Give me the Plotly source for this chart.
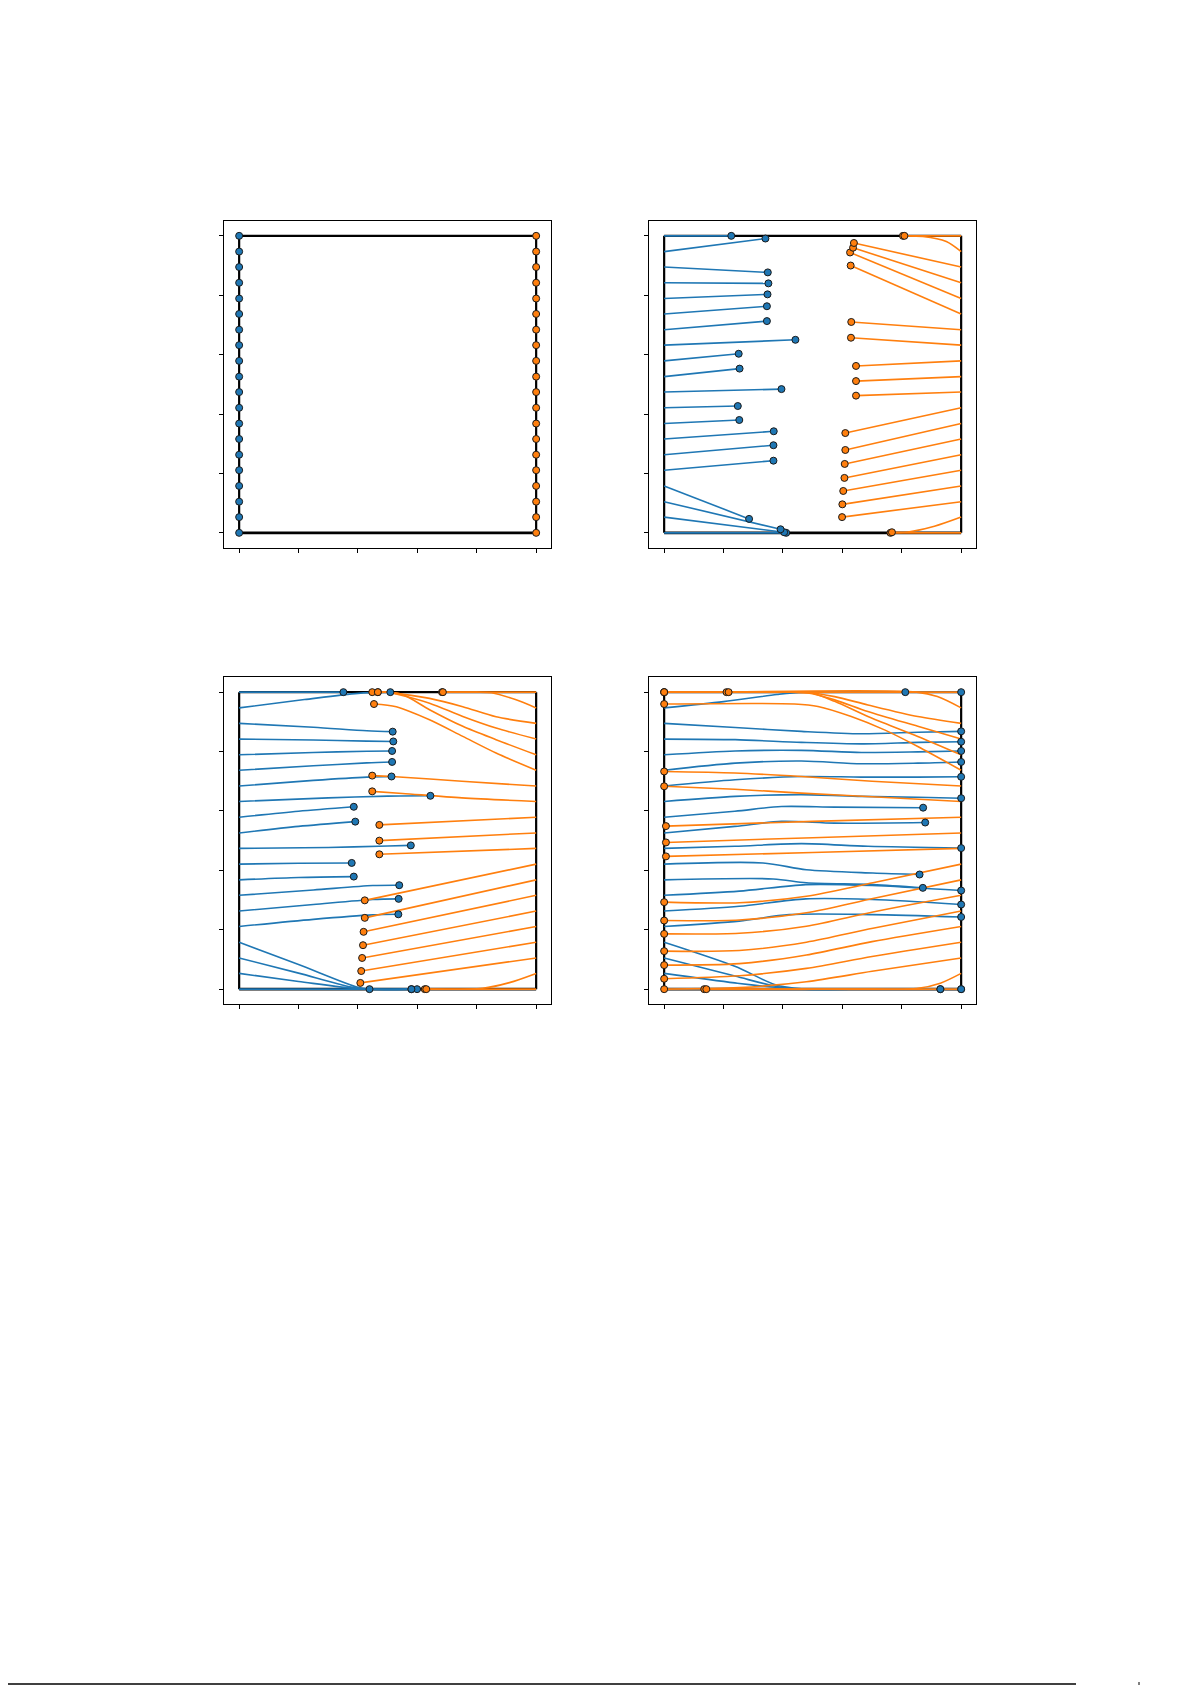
import plotly.graph_objects as go

start_y = [0.0, 0.053, 0.105, 0.158, 0.211, 0.263, 0.316, 0.368, 0.421, 0.474,
           0.526, 0.579, 0.632, 0.684, 0.737, 0.789, 0.842, 0.895, 0.947, 1.0]

# panel 1: particles at rest on the walls
p1_blue = [[(0.0, y)] for y in start_y]
p1_orange = [[(1.0, y)] for y in start_y]

# panel 2 trajectories (index = particle k, bottom to top)
p2_blue = [
    [(0, 0.0), (0.411, 0.0)],
    [(0, 0.053), (0.404, 0.002)],
    [(0, 0.105), (0.392, 0.012)],
    [(0, 0.158), (0.286, 0.047)],
    [(0, 0.211), (0.368, 0.243)],
    [(0, 0.263), (0.368, 0.295)],
    [(0, 0.316), (0.369, 0.342)],
    [(0, 0.368), (0.253, 0.380)],
    [(0, 0.421), (0.248, 0.427)],
    [(0, 0.474), (0.395, 0.484)],
    [(0, 0.526), (0.254, 0.553)],
    [(0, 0.579), (0.251, 0.603)],
    [(0, 0.632), (0.442, 0.650)],
    [(0, 0.684), (0.346, 0.713)],
    [(0, 0.737), (0.346, 0.763)],
    [(0, 0.789), (0.348, 0.803)],
    [(0, 0.842), (0.351, 0.840)],
    [(0, 0.895), (0.349, 0.877)],
    [(0, 0.947), (0.341, 0.991)],
    [(0, 1.0), (0.226, 1.0)],
]
p2_orange = [
    [(1, 0.0), (0.762, 0.0)],
    [(1, 0.053), (0.910, 0.022), (0.821, 0.003), (0.767, 0.002)],
    [(1, 0.105), (0.599, 0.053)],
    [(1, 0.158), (0.600, 0.096)],
    [(1, 0.211), (0.603, 0.141)],
    [(1, 0.263), (0.607, 0.185)],
    [(1, 0.316), (0.608, 0.232)],
    [(1, 0.368), (0.610, 0.279)],
    [(1, 0.421), (0.610, 0.336)],
    [(1, 0.474), (0.646, 0.462)],
    [(1, 0.526), (0.646, 0.511)],
    [(1, 0.579), (0.646, 0.562)],
    [(1, 0.632), (0.629, 0.657)],
    [(1, 0.684), (0.630, 0.710)],
    [(1, 0.737), (0.628, 0.900)],
    [(1, 0.789), (0.626, 0.944)],
    [(1, 0.842), (0.636, 0.960)],
    [(1, 0.895), (0.639, 0.976)],
    [(1, 0.947), (0.950, 0.981), (0.871, 0.998), (0.804, 1.0)],
    [(1, 1.0), (0.809, 1.0)],
]

# panel 3 trajectories
p3_blue = [
    [(0, 0.0), (0.580, 0.0)],
    [(0, 0.053), (0.2, 0.026), (0.405, 0.001), (0.599, 0.0)],
    [(0, 0.105), (0.2, 0.054), (0.405, 0.002), (0.580, 0.0)],
    [(0, 0.158), (0.2, 0.083), (0.40, 0.006), (0.439, 0.0)],
    [(0, 0.211), (0.25, 0.235), (0.45, 0.250), (0.536, 0.252)],
    [(0, 0.263), (0.25, 0.285), (0.45, 0.302), (0.537, 0.304)],
    [(0, 0.316), (0.25, 0.334), (0.45, 0.349), (0.539, 0.350)],
    [(0, 0.368), (0.2, 0.376), (0.386, 0.379)],
    [(0, 0.421), (0.2, 0.424), (0.379, 0.425)],
    [(0, 0.474), (0.3, 0.477), (0.5, 0.482), (0.578, 0.484)],
    [(0, 0.526), (0.2, 0.548), (0.391, 0.564)],
    [(0, 0.579), (0.2, 0.599), (0.386, 0.614)],
    [(0, 0.632), (0.3, 0.644), (0.5, 0.650), (0.644, 0.651)],
    [(0, 0.684), (0.25, 0.703), (0.43, 0.714), (0.513, 0.716)],
    [(0, 0.737), (0.25, 0.752), (0.43, 0.762), (0.515, 0.765)],
    [(0, 0.789), (0.25, 0.797), (0.43, 0.801), (0.515, 0.802)],
    [(0, 0.842), (0.25, 0.839), (0.43, 0.835), (0.519, 0.834)],
    [(0, 0.895), (0.25, 0.882), (0.43, 0.870), (0.517, 0.867)],
    [(0, 0.947), (0.22, 0.975), (0.40, 0.996), (0.509, 1.0)],
    [(0, 1.0), (0.351, 1.0)],
]
p3_orange = [
    [(1, 0.0), (0.625, 0.0)],
    [(1, 0.053), (0.91, 0.022), (0.82, 0.003), (0.630, 0.0)],
    [(1, 0.105), (0.408, 0.021)],
    [(1, 0.158), (0.411, 0.061)],
    [(1, 0.211), (0.414, 0.105)],
    [(1, 0.263), (0.417, 0.148)],
    [(1, 0.316), (0.419, 0.193)],
    [(1, 0.368), (0.423, 0.240)],
    [(1, 0.421), (0.423, 0.299)],
    [(1, 0.474), (0.472, 0.454)],
    [(1, 0.526), (0.472, 0.500)],
    [(1, 0.579), (0.472, 0.553)],
    [(1, 0.632), (0.75, 0.644), (0.55, 0.659), (0.448, 0.666)],
    [(1, 0.684), (0.75, 0.700), (0.513, 0.716), (0.448, 0.719)],
    [(1, 0.737), (0.865, 0.795), (0.753, 0.851), (0.641, 0.907), (0.529, 0.951), (0.454, 0.960)],
    [(1, 0.789), (0.865, 0.840), (0.753, 0.885), (0.641, 0.941), (0.552, 0.991), (0.50, 1.0), (0.467, 1.0)],
    [(1, 0.842), (0.865, 0.879), (0.753, 0.918), (0.641, 0.963), (0.529, 0.994), (0.50, 1.0), (0.448, 1.0)],
    [(1, 0.895), (0.865, 0.917), (0.753, 0.951), (0.641, 0.979), (0.529, 0.996), (0.50, 1.0), (0.467, 1.0)],
    [(1, 0.947), (0.93, 0.975), (0.85, 0.998), (0.80, 1.0), (0.683, 1.0)],
    [(1, 1.0), (0.686, 1.0)],
]

# panel 4 trajectories
p4_blue = [
    [(0, 0.0), (0.930, 0.0)],
    [(0, 0.053), (0.238, 0.021), (0.439, 0.001), (0.7, 0.0), (1.0, 0.0)],
    [(0, 0.105), (0.238, 0.044), (0.406, 0.004), (0.6, 0.0), (0.930, 0.0)],
    [(0, 0.158), (0.238, 0.077), (0.372, 0.016), (0.462, 0.001), (0.7, 0.0), (1.0, 0.0)],
    [(0, 0.211), (0.253, 0.229), (0.421, 0.251), (0.700, 0.251), (1.0, 0.243)],
    [(0, 0.263), (0.253, 0.279), (0.477, 0.304), (0.700, 0.302), (1.0, 0.285)],
    [(0, 0.316), (0.253, 0.330), (0.477, 0.352), (0.700, 0.349), (1.0, 0.332)],
    [(0, 0.368), (0.367, 0.371), (0.479, 0.358), (0.703, 0.352), (0.871, 0.341)],
    [(0, 0.421), (0.333, 0.425), (0.479, 0.402), (0.703, 0.391), (0.860, 0.386)],
    [(0, 0.474), (0.238, 0.481), (0.462, 0.490), (0.686, 0.481), (1.0, 0.475)],
    [(0, 0.526), (0.238, 0.548), (0.395, 0.565), (0.574, 0.559), (0.879, 0.561)],
    [(0, 0.579), (0.238, 0.599), (0.395, 0.615), (0.574, 0.613), (0.872, 0.611)],
    [(0, 0.632), (0.239, 0.649), (0.462, 0.655), (0.664, 0.649), (0.854, 0.646), (1.0, 0.643)],
    [(0, 0.684), (0.239, 0.705), (0.462, 0.716), (0.664, 0.714), (0.854, 0.714), (1.0, 0.715)],
    [(0, 0.737), (0.239, 0.761), (0.462, 0.768), (0.664, 0.759), (0.854, 0.761), (1.0, 0.765)],
    [(0, 0.789), (0.239, 0.802), (0.462, 0.804), (0.664, 0.797), (0.854, 0.799), (1.0, 0.802)],
    [(0, 0.842), (0.239, 0.840), (0.462, 0.831), (0.664, 0.826), (0.854, 0.831), (1.0, 0.833)],
    [(0, 0.895), (0.239, 0.881), (0.462, 0.868), (0.664, 0.860), (0.854, 0.865), (1.0, 0.868)],
    [(0, 0.947), (0.2, 0.968), (0.38, 0.992), (0.47, 1.0), (1.0, 1.0)],
    [(0, 1.0), (0.812, 1.0)],
]
p4_orange = [
    [(1, 0.0), (0.135, 0.0)],
    [(1, 0.053), (0.93, 0.02), (0.85, 0.002), (0.7, 0.0), (0.142, 0.0)],
    [(1, 0.105), (0.7, 0.06), (0.479, 0.025), (0.253, 0.005), (0.0, 0.0)],
    [(1, 0.158), (0.7, 0.11), (0.479, 0.07), (0.253, 0.045), (0.0, 0.035)],
    [(1, 0.211), (0.7, 0.16), (0.479, 0.115), (0.253, 0.086), (0.0, 0.081)],
    [(1, 0.263), (0.703, 0.205), (0.479, 0.158), (0.253, 0.130), (0.0, 0.128)],
    [(1, 0.316), (0.703, 0.260), (0.479, 0.212), (0.253, 0.188), (0.0, 0.186)],
    [(1, 0.368), (0.703, 0.305), (0.479, 0.257), (0.253, 0.233), (0.0, 0.231)],
    [(1, 0.421), (0.703, 0.358), (0.479, 0.313), (0.253, 0.291), (0.0, 0.293)],
    [(1, 0.474), (0.5, 0.460), (0.006, 0.447)],
    [(1, 0.526), (0.5, 0.510), (0.006, 0.494)],
    [(1, 0.579), (0.5, 0.565), (0.006, 0.549)],
    [(1, 0.632), (0.70, 0.648), (0.462, 0.660), (0.238, 0.673), (0.0, 0.683)],
    [(1, 0.684), (0.70, 0.700), (0.462, 0.716), (0.238, 0.728), (0.0, 0.733)],
    [(1, 0.737), (0.854, 0.817), (0.742, 0.873), (0.630, 0.918), (0.518, 0.952), (0.439, 0.960), (0.0, 0.960)],
    [(1, 0.789), (0.854, 0.851), (0.686, 0.918), (0.574, 0.969), (0.495, 0.997), (0.4, 1.0), (0.0, 1.0)],
    [(1, 0.842), (0.854, 0.885), (0.686, 0.935), (0.574, 0.974), (0.484, 0.997), (0.4, 1.0), (0.0, 1.0)],
    [(1, 0.895), (0.854, 0.918), (0.686, 0.957), (0.574, 0.985), (0.484, 0.999), (0.4, 1.0), (0.0, 1.0)],
    [(1, 0.947), (0.92, 0.985), (0.85, 1.0), (0.210, 1.0)],
    [(1, 1.0), (0.217, 1.0)],
]

panels = [(p1_blue, p1_orange), (p2_blue, p2_orange), (p3_blue, p3_orange), (p4_blue, p4_orange)]
tick_vals = [0.0, 0.2, 0.4, 0.6, 0.8, 1.0]

BLUE = "#1f77b4"
ORANGE = "#ff7f0e"

W, H = 1192, 1685
OFF = 8.0  # default page body margin of the html page
# axes frames on screen in pixels (left, right, top, bottom)
frames = [(224.3, 551.0, 221.0, 547.7), (649.3, 976.0, 221.0, 547.7),
          (224.3, 551.0, 677.3, 1004.0), (649.3, 976.0, 677.3, 1004.0)]

fig = go.Figure()


def path_xy(paths):
    xs, ys = [], []
    for p in paths:
        for (x, y) in p:
            xs.append(x)
            ys.append(y)
        xs.append(None)
        ys.append(None)
    return xs, ys


for i, (blue, orange) in enumerate(panels):
    n = "" if i == 0 else str(i + 1)
    xa, ya = "x" + n, "y" + n
    # boundary of the square
    fig.add_trace(go.Scatter(x=[0, 0, None, 1, 1, None, 0, 1], y=[0, 1, None, 0, 1, None, 1, 1],
                             mode="lines", line=dict(color="black", width=2.2),
                             xaxis=xa, yaxis=ya, showlegend=False, hoverinfo="skip"))
    fig.add_trace(go.Scatter(x=[0, 1], y=[0, 0], mode="lines",
                             line=dict(color="black", width=2.8),
                             xaxis=xa, yaxis=ya, showlegend=False, hoverinfo="skip"))
    for paths, col in ((blue, BLUE), (orange, ORANGE)):
        xs, ys = path_xy(paths)
        fig.add_trace(go.Scatter(x=xs, y=ys, mode="lines",
                                 line=dict(color=col, width=1.6, shape="spline", smoothing=0.8),
                                 xaxis=xa, yaxis=ya, showlegend=False, hoverinfo="skip"))
    for paths, col in ((blue, BLUE), (orange, ORANGE)):
        ex = [p[-1][0] for p in paths]
        ey = [p[-1][1] for p in paths]
        fig.add_trace(go.Scatter(x=ex, y=ey, mode="markers",
                                 marker=dict(color=col, size=7, line=dict(color="#1a1a1a", width=1)),
                                 xaxis=xa, yaxis=ya, showlegend=False))

    l, r, t, b = [v - OFF for v in frames[i]]
    ax = dict(range=[-0.05, 1.05], tickvals=tick_vals, showticklabels=False,
              ticks="outside", ticklen=4, tickwidth=1, tickcolor="black",
              showline=True, mirror=True, linecolor="black", linewidth=1,
              showgrid=False, zeroline=False)
    xkey = "xaxis" + n
    ykey = "yaxis" + n
    fig.update_layout({
        xkey: dict(ax, domain=[l / W, r / W], anchor=ya),
        ykey: dict(ax, domain=[1 - b / H, 1 - t / H], anchor=xa),
    })

# page artefact at the bottom edge
yline = 1 - (1684 - OFF) / H
fig.add_shape(type="line", xref="paper", yref="paper", x0=0, x1=(1076 - OFF) / W,
              y0=yline, y1=yline, line=dict(color="black", width=1.5))
fig.add_shape(type="line", xref="paper", yref="paper", x0=(1139 - OFF) / W, x1=(1139 - OFF) / W,
              y0=yline - 1 / H, y1=yline + 2 / H, line=dict(color="black", width=1))

fig.update_layout(width=W, height=H, margin=dict(l=0, r=0, t=0, b=0),
                  paper_bgcolor="white", plot_bgcolor="white", showlegend=False)

fig.write_html("out.html")
